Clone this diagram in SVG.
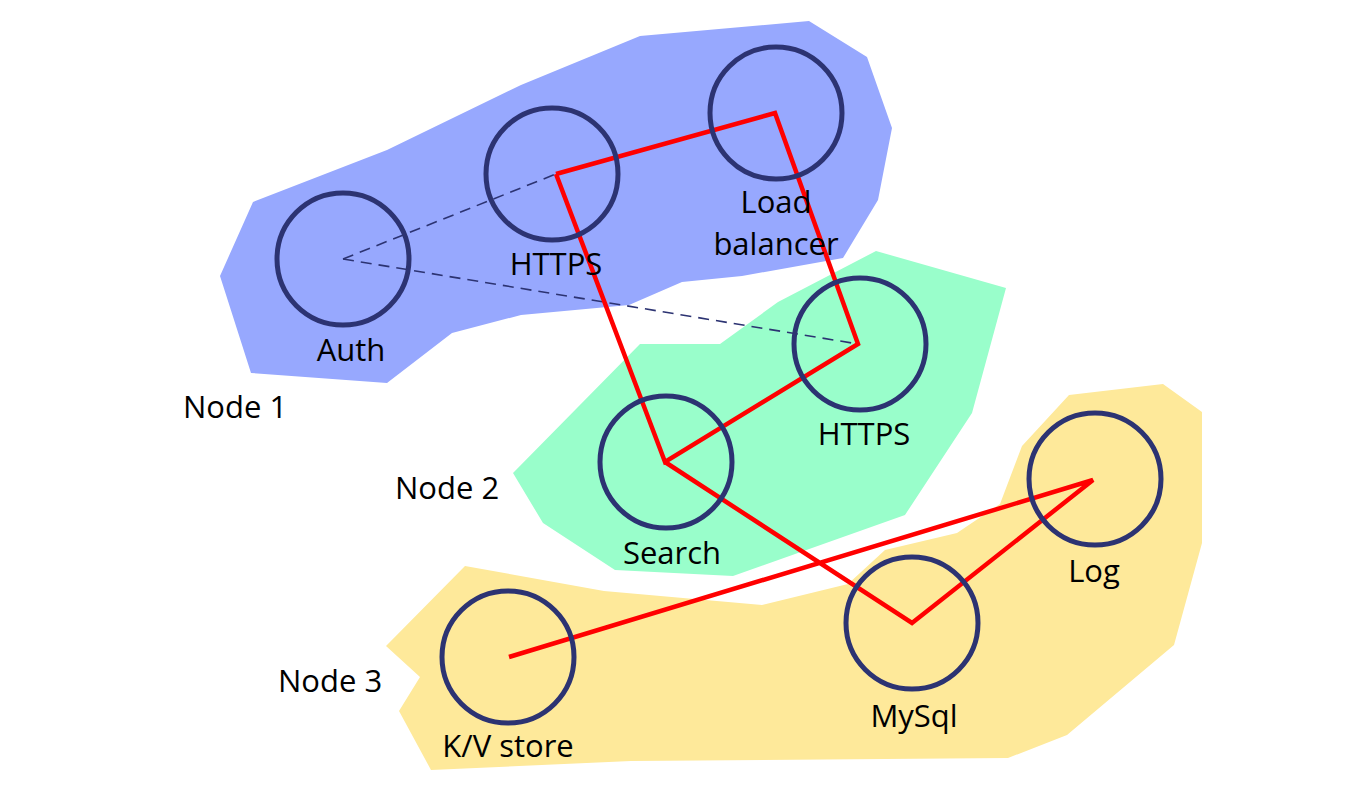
<svg xmlns="http://www.w3.org/2000/svg" width="1366" height="811" viewBox="0 0 1366 811">
<style>
.blob{stroke:none}
.svc{fill:none;stroke:#2c3372;stroke-width:5}
.lbl{font-family:"Open Sans","Liberation Sans",sans-serif;font-size:31px;fill:#000;text-anchor:middle}
.grp{font-family:"Open Sans","Liberation Sans",sans-serif;font-size:31px;fill:#000}
.red{fill:none;stroke:#ff0000;stroke-width:4.5;stroke-linejoin:miter}
.dash{fill:none;stroke:#2c3372;stroke-width:1.6;stroke-dasharray:11 7}
</style>
<rect width="1366" height="811" fill="#fff"/>
<g id="node1">
<polygon class="blob" fill="#97a8fe" points="253,202 387,150 521,85 640,36 809,21 867,57 892,128 878,200 843,258 742,276 682,282 629,305 521,315 452,333 387,383 251,373 220,276"/>
<text class="grp" x="183" y="418">Node 1</text>
</g>
<g id="node2">
<polygon class="blob" fill="#99fecb" points="876,251 1006,288 972,413 905,515 733,576 615,570 543,523 513,473 640,344 720,344 778,302"/>
<text class="grp" x="395" y="499">Node 2</text>
</g>
<g id="node3">
<polygon class="blob" fill="#fee99a" points="465,566 604,591 762,605 848,584 885,550 957,533 1000,504 1022,446 1069,395 1163,384 1202,412 1202,543 1174,645 1067,735 1008,758 631,761 431,770 399,711 420,677 386,646"/>
<text class="grp" x="278" y="692">Node 3</text>
</g>
<g id="connectors">
<line class="dash" x1="343" y1="259" x2="556" y2="174"/>
<line class="dash" x1="343" y1="259" x2="858" y2="344"/>
<polyline class="red" points="556,174 775,113 858,344 665,462 556,174"/>
<polyline class="red" points="665,462 912,623 1093,480 509,657"/>
</g>
<g id="auth">
<circle class="svc" cx="343" cy="259" r="66"/>
<text class="lbl" x="351" y="361">Auth</text>
</g>
<g id="https1">
<circle class="svc" cx="552" cy="174" r="66"/>
<text class="lbl" x="556" y="275">HTTPS</text>
</g>
<g id="loadbalancer">
<circle class="svc" cx="776" cy="113" r="66"/>
<text class="lbl" x="776" y="213">Load</text>
<text class="lbl" x="776" y="255">balancer</text>
</g>
<g id="https2">
<circle class="svc" cx="860" cy="344" r="66"/>
<text class="lbl" x="864" y="445">HTTPS</text>
</g>
<g id="search">
<circle class="svc" cx="666" cy="462" r="66"/>
<text class="lbl" x="672" y="564">Search</text>
</g>
<g id="log">
<circle class="svc" cx="1095" cy="479" r="66"/>
<text class="lbl" x="1094" y="582">Log</text>
</g>
<g id="mysql">
<circle class="svc" cx="912" cy="623" r="66"/>
<text class="lbl" x="914" y="727">MySql</text>
</g>
<g id="kvstore">
<circle class="svc" cx="508" cy="657" r="66"/>
<text class="lbl" x="508" y="757">K/V store</text>
</g>
</svg>
